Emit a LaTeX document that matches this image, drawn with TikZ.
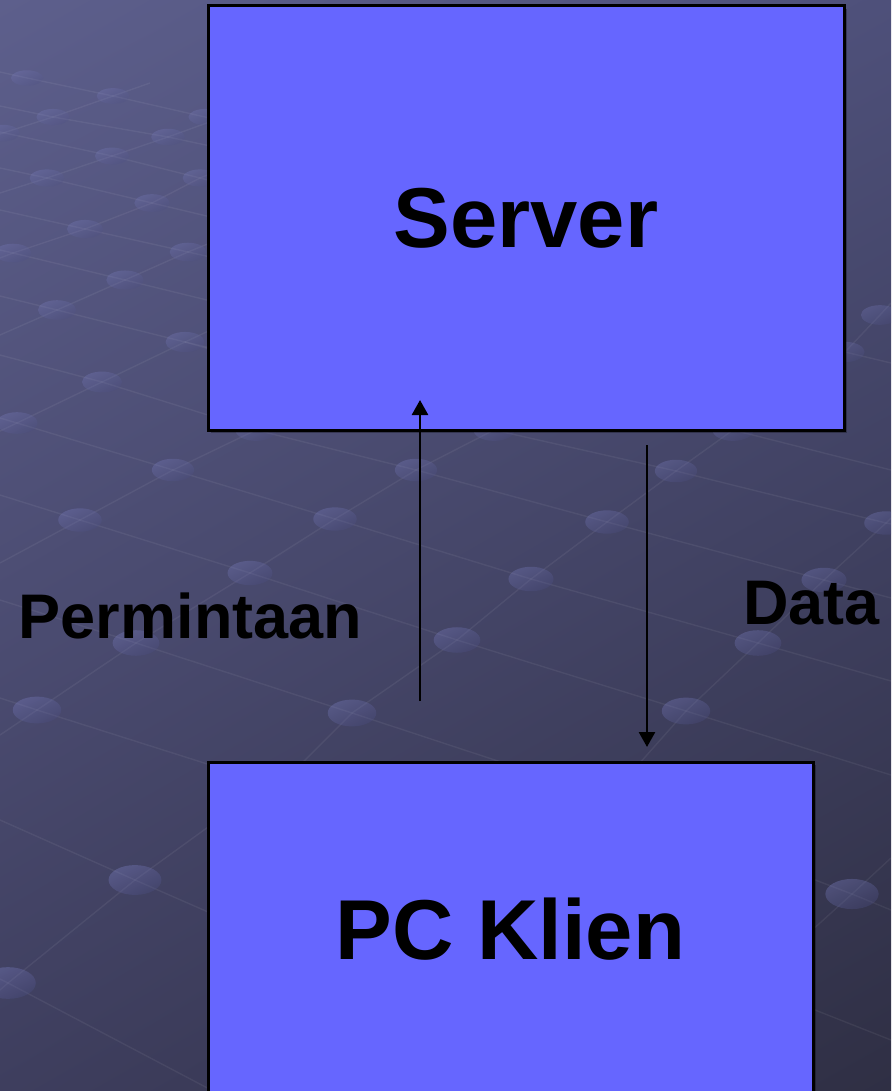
\documentclass[tikz,border=0pt]{standalone}
\usepackage{fontspec}
\setmainfont{Liberation Sans}
\usetikzlibrary{arrows.meta,shadings}
\definecolor{boxfill}{HTML}{6666FF}
\definecolor{bgUL}{HTML}{5D5F8C}
\definecolor{bgUR}{HTML}{4E507A}
\definecolor{bgLL}{HTML}{3E3E5E}
\definecolor{bgLR}{HTML}{2F2F44}
\definecolor{knotLight}{HTML}{8286CC}
\definecolor{knotDark}{HTML}{4A4C80}
\tikzset{
  gridline/.style={draw=white, draw opacity=0.06, line width=1.4pt},
  blockbox/.style={draw=black, fill=boxfill, line width=3pt, inner sep=0pt,
     font=\fontsize{85}{100}\selectfont\bfseries},
  boxshadow/.style={fill=black, fill opacity=0.28},
  flowarrow/.style={draw=black, line width=2.6pt, -{Triangle[width=16pt,length=15pt]}},
  flowlabel/.style={anchor=base, inner sep=0pt, font=\fontsize{63}{75}\selectfont\bfseries}
}
\begin{document}
\begin{tikzpicture}[x=1pt,y=-1pt]
\useasboundingbox (0,0) rectangle (891,1091);
\clip (0,0) rectangle (891,1091);
% background
\shade[upper left=bgUL, upper right=bgUR, lower left=bgLL, lower right=bgLR] (0,0) rectangle (891,1091);
% perspective lattice lines
\draw[gridline] (0,72) -- (27,78) -- (113,96) -- (205,117) -- (260,130);
\draw[gridline] (0,106) -- (53,117) -- (168,137) -- (215,147);
\draw[gridline] (0,132) -- (112,156) -- (200,178) -- (215,182);
\draw[gridline] (0,168) -- (47,178) -- (152,203) -- (215,218);
\draw[gridline] (0,210) -- (85,229) -- (188,252) -- (215,258);
\draw[gridline] (0,250) -- (13,253) -- (125,280) -- (215,302);
\draw[gridline] (0,296) -- (57,310) -- (185,342) -- (215,349);
\draw[gridline] (0,355) -- (102,382) -- (256,430) -- (416,470) -- (607,522) -- (824,580) -- (891,598);
\draw[gridline] (0,418) -- (17,423) -- (173,470) -- (335,519) -- (531,579) -- (758,643) -- (891,681);
\draw[gridline] (0,495) -- (80,520) -- (250,573) -- (457,640) -- (686,711) -- (891,775);
\draw[gridline] (0,600) -- (136,643) -- (352,713) -- (510,765);
\draw[gridline] (0,698) -- (37,710) -- (220,768);
\draw[gridline] (185,342) -- (494,430) -- (676,471) -- (886,523) -- (891,524);
\draw[gridline] (733,430) -- (891,470);
\draw[gridline] (845,352) -- (891,363);
\draw[gridline] (0,820) -- (135,880) -- (215,915);
\draw[gridline] (0,979) -- (8,983) -- (215,1092);
\draw[gridline] (810,878) -- (852,894) -- (891,910);
\draw[gridline] (810,1008) -- (891,1040);
\draw[gridline] (0,134) -- (3,133) -- (53,117) -- (113,96) -- (150,83);
\draw[gridline] (0,193) -- (47,178) -- (112,156) -- (168,137) -- (215,120);
\draw[gridline] (0,258) -- (13,253) -- (85,229) -- (152,203) -- (200,178) -- (215,172);
\draw[gridline] (0,335) -- (57,310) -- (125,280) -- (188,252) -- (215,241);
\draw[gridline] (0,431) -- (17,423) -- (102,382) -- (185,342) -- (215,328);
\draw[gridline] (0,563) -- (80,520) -- (173,470) -- (256,430) -- (280,418);
\draw[gridline] (0,735) -- (37,710) -- (136,643) -- (250,573) -- (335,519) -- (416,470) -- (494,430) -- (520,412);
\draw[gridline] (300,765) -- (352,713) -- (457,640) -- (531,579) -- (607,522) -- (676,471) -- (733,430) -- (760,410);
\draw[gridline] (638,765) -- (686,711) -- (758,643) -- (824,580) -- (886,523) -- (891,518);
\draw[gridline] (830,370) -- (845,352) -- (880,315) -- (891,303);
\draw[gridline] (0,990) -- (8,983) -- (135,880) -- (215,822);
\draw[gridline] (810,932) -- (852,894) -- (891,858);
% lattice knots
\foreach \px/\py in {27/78, 113/96, 53/117, 3/133, 168/137, 112/156, 205/117, 47/178,
   152/203, 200/178, 85/229, 13/253, 188/252, 125/280, 57/310, 185/342, 102/382, 17/423,
   256/430, 494/430, 733/430, 173/470, 416/470, 676/471, 80/520, 335/519, 607/522,
   886/523, 250/573, 531/579, 824/580, 136/643, 457/640, 758/643, 37/710, 352/713,
   686/711, 880/315, 845/352, 135/880, 8/983, 852/894} {
  \pgfmathsetmacro{\rx}{15+0.013*\py}
  \pgfmathsetmacro{\ry}{7+0.009*\py}
  \pgfmathsetmacro{\kop}{0.22+0.00014*\py}
  \shade[top color=knotLight, bottom color=knotDark, shading angle=25, fill opacity=\kop]
     (\px,\py) ellipse [x radius=\rx pt, y radius=\ry pt];
}
% shadows of boxes
\fill[boxshadow] (211,9) rectangle (847,433);
\fill[boxshadow] (211,765) rectangle (816,1100);
% boxes
\node[blockbox, minimum width=636pt, minimum height=424pt] (server) at (526,218) {Server};
\node[blockbox, minimum width=605pt, minimum height=335pt] (client) at (510.5,929.5) {PC Klien};
% connectors
\coordinate (reqStart) at (420,701);
\coordinate (reqEnd) at (420,400);
\coordinate (dataStart) at (647,445);
\coordinate (dataEnd) at (647,747);
\draw[flowarrow] (reqStart) -- (reqEnd);
\draw[flowarrow] (dataStart) -- (dataEnd);
% labels
\node[flowlabel] (lblReq) at (190.5,638) {Permintaan};
\node[flowlabel] (lblData) at (811.5,624) {Data};
\end{tikzpicture}
\end{document}
